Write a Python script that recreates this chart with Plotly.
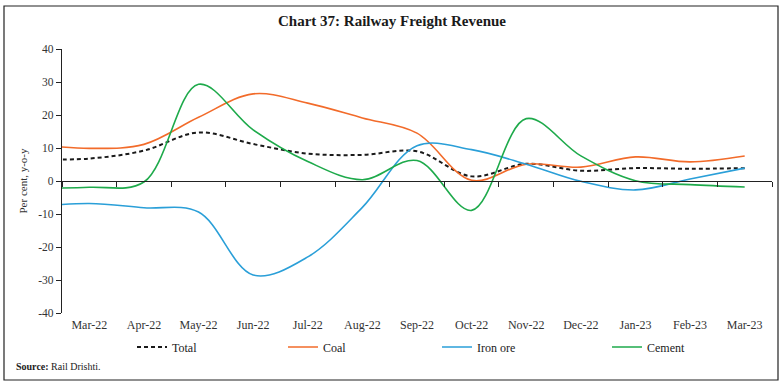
import plotly.graph_objects as go

months = ["Feb-22", "Mar-22", "Apr-22", "May-22", "Jun-22", "Jul-22", "Aug-22", "Sep-22",
          "Oct-22", "Nov-22", "Dec-22", "Jan-23", "Feb-23", "Mar-23"]
total = [6.5, 6.8, 9.2, 14.7, 11.2, 8.3, 7.9, 9.0, 1.4, 5.2, 3.1, 3.9, 3.7, 3.9]
coal = [11.1, 9.9, 11.1, 19.3, 26.4, 23.6, 19.1, 14.5, 0.2, 5.1, 4.2, 7.3, 5.8, 7.6]
iron_ore = [-7.8, -6.8, -8.1, -9.4, -28.5, -23.0, -8.0, 10.7, 9.5, 5.1, -0.1, -2.7, 0.6, 3.9]
cement = [-2.1, -1.9, -0.3, 29.3, 15.5, 5.9, 0.4, 6.2, -8.9, 18.9, 7.6, 0.1, -1.1, -1.8]
y_ticks = [-40, -30, -20, -10, 0, 10, 20, 30, 40]

W, H = 784, 386
L, R, T, B = 62, 12, 49, 73
PW, PH = W - L - R, H - T - B

def px(x):
    return (x - L) / PW

def py(y):
    return (H - B - y) / PH

font_serif = "Liberation Serif"

fig = go.Figure()
series = [
    ("Total", total, dict(color="#1a1a1a", width=2, dash="4px,3px"), "legend", 132),
    ("Coal", coal, dict(color="#F26B2A", width=1.6), "legend2", 283),
    ("Iron ore", iron_ore, dict(color="#2A9FD8", width=1.6), "legend3", 437),
    ("Cement", cement, dict(color="#1EAA4B", width=1.6), "legend4", 607),
]
for name, vals, line, lg, _ in series:
    fig.add_trace(go.Scatter(x=months, y=vals, name=name, mode="lines",
                             line=dict(shape="spline", smoothing=1.0, **line),
                             legend=lg))

cat_rng = [0.5, len(months) - 0.5]
legend_common = dict(orientation="h", yanchor="middle", xanchor="left",
                     font=dict(family=font_serif, size=12, color="#222"),
                     bgcolor="rgba(0,0,0,0)", tracegroupgap=0, itemwidth=30)
layout_legends = {}
for name, vals, line, lg, xpos in series:
    layout_legends[lg] = dict(x=px(xpos), y=py(347), **legend_common)

fig.update_layout(
    width=W, height=H,
    margin=dict(l=L, r=R, t=T, b=B),
    paper_bgcolor="white", plot_bgcolor="white",
    title=dict(text="<b>Chart 37: Railway Freight Revenue</b>", x=0.5, xanchor="center",
               y=1 - 21 / H, yanchor="middle",
               font=dict(family=font_serif, size=15, color="#1a1a1a")),
    xaxis=dict(type="category", categoryorder="array", categoryarray=months,
               range=cat_rng, showline=False, ticks="", showgrid=False,
               tickfont=dict(family=font_serif, size=12, color="#333"),
               ticklabelstandoff=3),
    xaxis2=dict(type="category", categoryorder="array", categoryarray=months,
                range=cat_rng, overlaying="x", anchor="free", position=0.5,
                side="bottom", showline=True, linecolor="#222", linewidth=1.2,
                ticks="outside", ticklen=5, tickcolor="#222", tickson="boundaries",
                showticklabels=False, showgrid=False),
    yaxis=dict(range=[-40, 40], tickmode="array", tickvals=y_ticks,
               ticktext=[str(v) for v in y_ticks],
               showline=True, linecolor="#222", linewidth=1.2,
               ticks="outside", ticklen=5, tickcolor="#222", showgrid=False, zeroline=False,
               tickfont=dict(family=font_serif, size=11.5, color="#333"),
               title=dict(text="Per cent, y-o-y", standoff=8,
                          font=dict(family=font_serif, size=11, color="#333"))),
    **layout_legends,
)

fig.add_trace(go.Scatter(x=months, y=[None] * len(months), xaxis="x2", showlegend=False,
                         hoverinfo="skip"))

fig.add_shape(type="rect", xref="paper", yref="paper",
              x0=px(4), x1=px(778), y0=py(380), y1=py(6),
              line=dict(color="#222", width=1.2), fillcolor="rgba(0,0,0,0)", layer="below")

fig.add_annotation(text="<b>Source:</b> Rail Drishti.", xref="paper", yref="paper",
                   x=px(14), y=py(366), xanchor="left", yanchor="middle", showarrow=False,
                   font=dict(family=font_serif, size=10, color="#222"))

fig.write_html("out.html", config={"displayModeBar": False},
               post_script="document.body.style.margin='0';document.body.style.overflow='hidden';")
